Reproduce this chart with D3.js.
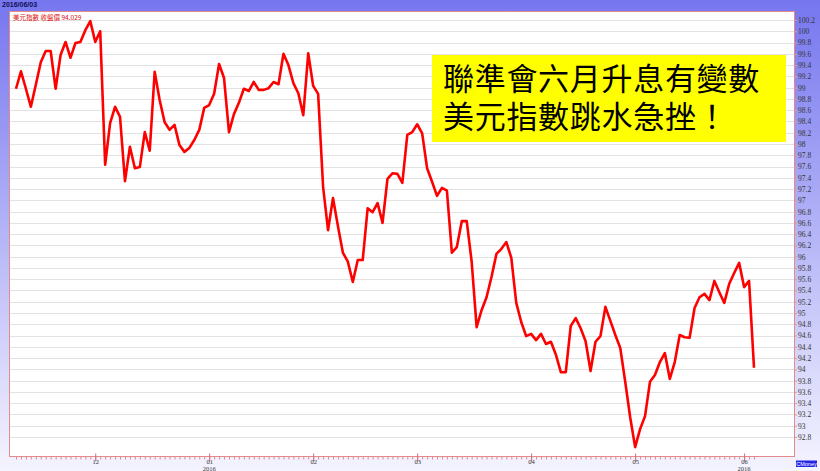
<!DOCTYPE html>
<html><head><meta charset="utf-8">
<script src="https://cdn.jsdelivr.net/npm/d3@7"></script>
<style>
body{margin:0;background:#fff;}
svg{display:block;}
</style>
</head><body>
<svg id="chart" width="820" height="471"></svg>
<script>
// ---------- data ----------
const startDate = "2015-11-09";
const endDate = "2016-06-03";
const closeValues = [
  98.98, 99.29, 98.98, 98.66, 99.05, 99.45, 99.65, 99.65, 98.98, 99.58,
  99.81, 99.53, 99.79, 99.81, 100.02, 100.18, 99.81, 100.00, 97.63, 98.37,
  98.66, 98.48, 97.34, 97.95, 97.57, 97.59, 98.21, 97.88, 99.28, 98.78,
  98.39, 98.25, 98.34, 97.98, 97.86, 97.93, 98.07, 98.25, 98.64, 98.69,
  98.89, 99.42, 99.17, 98.21, 98.53, 98.73, 98.98, 98.94, 99.10, 98.96,
  98.96, 98.99, 99.10, 99.06, 99.60, 99.40, 99.08, 98.90, 98.51, 99.61,
  99.03, 98.89, 97.24, 96.47, 97.04, 96.54, 96.07, 95.91, 95.55, 95.94,
  95.94, 96.86, 96.79, 96.95, 96.60, 97.38, 97.48, 97.47, 97.31, 98.16,
  98.21, 98.35, 98.19, 97.57, 97.33, 97.08, 97.22, 97.17, 96.07, 96.17,
  96.63, 96.63, 95.91, 94.75, 95.05, 95.28, 95.64, 96.05, 96.14, 96.26,
  95.98, 95.18, 94.84, 94.59, 94.63, 94.52, 94.63, 94.45, 94.49, 94.26,
  93.95, 93.95, 94.77, 94.91, 94.73, 94.50, 93.97, 94.49, 94.59, 95.11,
  94.86, 94.61, 94.38, 93.78, 93.15, 92.62, 92.94, 93.17, 93.78, 93.90,
  94.13, 94.29, 93.83, 94.13, 94.61, 94.57, 94.56, 95.09, 95.28, 95.34,
  95.23, 95.57, 95.37, 95.18, 95.52, 95.71, 95.89, 95.46, 95.57, 94.029
];
const yTickLabels = ["92.8","93","93.2","93.4","93.6","93.8","94","94.2","94.4","94.6",
  "94.8","95","95.2","95.4","95.6","95.8","96","96.2","96.4","96.6","96.8","97",
  "97.2","97.4","97.6","97.8","98","98.2","98.4","98.6","98.8","99","99.2","99.4",
  "99.6","99.8","100","100.2"];
const monthTickDates = ["2015-12-01","2016-01-01","2016-02-01","2016-03-01","2016-04-01","2016-05-02","2016-06-01"];
const monthTickLabels = ["12","01","02","03","04","05","06"];
const yearLabelDates = ["2016-01-01","2016-06-01"];
const yearLabelText = ["2016","2016"];
const headerDate = "2016/06/03";
const legendText = "美元指數 收盤價 94.029";
const titleLines = ["聯準會六月升息有變數", "美元指數跳水急挫！"];
const brandText = "CMoney";

// ---------- build ----------
const parse = d3.timeParse("%Y-%m-%d");
const fmt = d3.timeFormat("%Y-%m-%d");
const days = d3.timeDay.range(parse(startDate), d3.timeDay.offset(parse(endDate), 1))
  .filter(d => d.getDay() !== 0 && d.getDay() !== 6);
const dayKeys = days.map(fmt);
const data = closeValues.map((v, i) => ({ i, v }));

const svg = d3.select("#chart");
const W = 820, H = 471;
const plot = { left: 9, right: 795, top: 11, bottom: 457 };

const defs = svg.append("defs");
const grad = defs.append("linearGradient").attr("id", "bg").attr("x1", 0).attr("y1", 0).attr("x2", 0).attr("y2", 1);
grad.append("stop").attr("offset", "0%").attr("stop-color", "#7676ef");
grad.append("stop").attr("offset", "100%").attr("stop-color", "#f4f4ff");
svg.append("rect").attr("width", W).attr("height", H).attr("fill", "url(#bg)");

svg.append("rect").attr("x", plot.left).attr("y", plot.top)
  .attr("width", plot.right - plot.left).attr("height", plot.bottom - plot.top)
  .attr("fill", "#ffffff");

const x = d3.scaleLinear().domain([0, closeValues.length - 1]).range([16, 754]);
const y = d3.scaleLinear().domain([92.8, 100.2]).range([437, 20]);

const yVals = yTickLabels.map(Number);

// gridlines
svg.append("g").selectAll("line").data(yVals).join("line")
  .attr("x1", plot.left + 1).attr("x2", plot.right)
  .attr("y1", d => Math.round(y(d)) + 0.5).attr("y2", d => Math.round(y(d)) + 0.5)
  .attr("stroke", "#e2e2e2").attr("stroke-width", 1);

// border
svg.append("rect").attr("x", plot.left + 0.5).attr("y", plot.top + 0.5)
  .attr("width", plot.right - plot.left - 1).attr("height", plot.bottom - plot.top - 1)
  .attr("fill", "none").attr("stroke", "#e58a8a").attr("stroke-width", 1);

// y axis (right)
const yAxis = d3.axisRight(y).tickValues(yVals).tickFormat((d, i) => yTickLabels[i]).tickSize(2).tickPadding(1);
const gy = svg.append("g").attr("transform", `translate(${plot.right},0)`).call(yAxis);
gy.select(".domain").remove();
gy.selectAll("line").attr("stroke", "#d99");
gy.selectAll("text").attr("font-family", "'Liberation Serif', serif").attr("font-size", 7.5)
  .attr("fill", "#333").attr("font-weight", "normal");

// x axis: daily minor ticks + month ticks
const monthIdx = monthTickDates.map(d => dayKeys.indexOf(d));
const xAxisMinor = d3.axisBottom(x).tickValues(d3.range(closeValues.length)).tickSize(3).tickFormat("");
const gxm = svg.append("g").attr("transform", `translate(0,${plot.bottom - 0.5})`).call(xAxisMinor);
gxm.select(".domain").remove();
gxm.selectAll("line").attr("stroke", "#e58a8a");

const xAxisMajor = d3.axisBottom(x).tickValues(monthIdx).tickFormat((d, i) => monthTickLabels[i]).tickSize(5).tickPadding(0);
const gx = svg.append("g").attr("transform", `translate(0,${plot.bottom - 0.5})`).call(xAxisMajor);
gx.select(".domain").remove();
gx.selectAll("line").attr("stroke", "#d07070").attr("y1", -3);
gx.selectAll("text").attr("font-family", "'Liberation Serif', serif").attr("font-size", 6.5)
  .attr("fill", "#333").attr("y", 7).attr("dy", 0);

svg.append("g").selectAll("text").data(yearLabelDates).join("text")
  .attr("x", d => x(dayKeys.indexOf(d))).attr("y", 470.5)
  .attr("text-anchor", "middle").attr("font-family", "'Liberation Serif', serif")
  .attr("font-size", 6.5).attr("fill", "#333")
  .text((d, i) => yearLabelText[i]);

// line
const line = d3.line().x(d => x(d.i)).y(d => y(d.v));
svg.append("path").datum(data).attr("d", line)
  .attr("fill", "none").attr("stroke", "#ff0000").attr("stroke-width", 2.6)
  .attr("stroke-linejoin", "round");

// header & legend
svg.append("text").attr("x", 2).attr("y", 7).attr("font-family", "'Liberation Sans', Arial, sans-serif")
  .attr("font-size", 7).attr("font-weight", "bold").attr("fill", "#10105a").text(headerDate);
svg.append("text").attr("x", 13).attr("y", 19.5).attr("font-family", "'Noto Sans CJK TC', sans-serif")
  .attr("font-size", 6.5).attr("fill", "#e01010").text(legendText);

// annotation box
svg.append("rect").attr("x", 432).attr("y", 55).attr("width", 354).attr("height", 87).attr("fill", "#ffff00");
svg.append("g").selectAll("text").data(titleLines).join("text")
  .attr("x", 443).attr("y", (d, i) => 90 + i * 38)
  .attr("font-family", "'Noto Sans CJK TC', sans-serif").attr("font-size", 31)
  .attr("letter-spacing", 0.7).attr("fill", "#000").text(d => d);

// brand
svg.append("rect").attr("x", 796).attr("y", 460.5).attr("width", 21).attr("height", 6.5).attr("fill", "#2424e6");
svg.append("text").attr("x", 806.5).attr("y", 466).attr("text-anchor", "middle")
  .attr("font-family", "'Liberation Sans', sans-serif").attr("font-size", 5.5).attr("fill", "#fff").text(brandText);
</script>
</body></html>
